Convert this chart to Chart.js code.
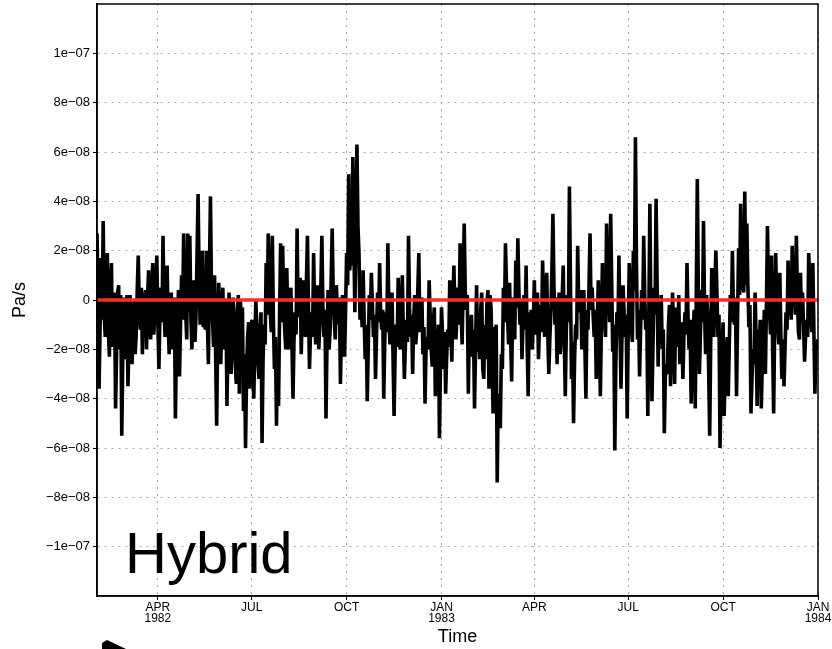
<!DOCTYPE html>
<html>
<head>
<meta charset="utf-8">
<script src="https://cdn.jsdelivr.net/npm/chart.js@4.4.1/dist/chart.umd.min.js"></script>
<style>
  body { margin: 0; background: #fff; }
  canvas { display: block; }
</style>
</head>
<body>
<canvas id="myChart" width="832" height="649"></canvas>
<script>
// daily omega in units of 1e-08 Pa/s, starting 1 Feb 1982 (day 0), 20 days per row
let stepDays = 1;
let omega = [
    2.7, 0.4, -3.6, -1.0, 1.7, -0.8, 3.2, -0.6, -1.5, 0.9, 1.9, -1.2, -2.3, 0.2, 1.5, -1.9, -0.8, 0.3, -4.4, -2.1,
    0.3, 0.6, -2.0, 0.2, -5.5, -2.3, 0.1, -2.4, -1.8, 0.2, -3.5, -1.6, 0.2, -1.0, -2.6, -0.9, 0.0, -2.2, -1.4, 0.4,
    1.8, -0.3, -1.2, 0.5, -2.2, 0.3, -0.5, 0.4, -2.0, 0.1, 1.2, -0.7, -1.6, 0.3, 1.5, -1.4, -0.6, 0.6, 1.8, -0.9,
    -2.8, -0.6, 0.5, -0.9, 2.6, -0.4, -1.5, 0.2, 1.4, -1.0, -2.2, -0.3, 0.3, -2.0, -1.2, 0.1, -4.8, -1.9, -0.8, 0.4,
    -3.1, -0.9, 1.0, -0.8, 2.7, 0.6, -0.5, -1.6, 2.7, -0.5, 2.6, -0.7, -2.0, -0.4, 0.8, -1.7, -0.6, 1.9, 4.3, 0.9,
    -1.0, 0.4, 2.0, -1.1, -0.3, -1.2, 2.0, -0.9, -2.6, 1.2, 4.2, 0.3, -0.8, -1.9, 1.0, -2.2, -5.1, -1.3, 0.7, -0.6,
    -2.6, -0.7, 0.5, -2.0, -1.4, 0.0, -4.3, -1.6, 0.3, -1.2, -3.0, -1.4, 0.1, -1.1, -2.5, -3.4, -0.5, 0.2, -3.8, 0.0,
    -1.0, -0.3, -4.5, -2.2, -6.0, -3.0, -1.5, -0.9, -3.6, -2.1, -0.8, -2.6, -4.0, -1.8, 0.0, -1.3, -2.5, -3.2, -1.2, -0.5,
    -5.8, -2.4, -1.0, -1.8, 1.5, -0.6, 2.7, 0.8, -0.5, -1.3, 2.6, -0.8, -2.8, -1.5, -5.1, -2.0, -4.3, -0.6, 2.3, -0.9,
    2.2, -0.4, -1.2, -2.0, 1.3, -0.9, -2.0, -0.6, 0.5, -1.8, -4.0, -1.6, -0.5, -1.4, 2.9, -0.7, 0.2, 0.9, -2.2, -0.3,
    0.8, -0.6, -1.5, 0.7, 2.6, -0.2, -2.8, -1.3, -0.5, -1.5, 1.9, -0.4, -1.8, -0.7, 0.6, -2.0, -1.0, 0.5, 2.6, -0.3,
    -1.5, -0.4, -4.8, -1.7, 0.4, -2.0, -1.2, 0.8, 2.9, 0.3, -0.8, -1.6, 0.6, -0.3, -1.0, 0.1, -3.4, -1.1, 0.2, -0.9,
    -2.3, -0.4, 1.9, 0.6, 5.1, 1.2, 2.0, 1.4, 5.8, 2.3, -0.5, 2.7, 6.3, 3.0, 1.9, -0.8, 0.5, -1.1, 1.2, -0.8,
    -2.4, -1.0, -4.1, -1.9, 0.2, -0.8, 1.1, -0.2, -1.5, -0.6, -3.2, -1.4, 0.3, -0.9, 1.5, -0.5, -1.2, -0.4, -4.0, -1.6,
    -0.5, -1.3, 2.3, -0.6, -1.8, -0.4, 0.3, -2.3, -4.7, -2.2, -1.0, -1.9, 0.9, -1.1, -2.0, -0.5, 1.0, -1.4, -3.2, -1.8,
    -0.8, -1.7, 2.6, -0.3, -1.5, -0.6, -3.0, -0.9, 0.2, -1.8, -1.2, 0.4, 1.9, -1.3, -0.5, 0.1, -2.2, -1.1, -4.2, -2.0,
    -1.5, -2.0, 0.8, -0.6, -2.0, -2.7, -1.0, -0.3, -3.9, -1.2, -2.2, -1.0, -5.6, -2.5, -0.3, -1.4, -2.8, -1.3, -3.8, -2.3,
    -1.2, -1.9, 0.8, -1.1, -2.5, -0.2, 1.4, -0.5, -1.6, -0.4, 0.5, -1.0, 2.3, -0.6, -1.8, 0.7, 3.1, 0.4, -0.4, 0.2,
    -3.8, -0.7, -1.5, -0.6, -2.3, -1.2, -4.4, -1.9, 0.6, -2.1, -1.2, -2.4, -0.4, 0.3, -2.8, -3.2, -1.0, -2.4, -0.2, 0.4,
    -3.6, 0.2, -0.3, -2.4, -4.6, -1.1, -2.0, -1.0, -7.4, -3.8, -4.7, -5.2, -2.2, -2.8, 0.5, -0.9, 2.3, 0.6, -0.6, -1.8,
    0.7, -1.5, -3.3, 0.1, -0.8, -1.6, 1.6, -0.3, 2.5, 0.4, -1.0, 0.0, -2.4, -0.9, 0.2, -1.2, 1.4, -1.7, -3.9, -0.5,
    -1.2, -0.4, -2.0, -0.9, 0.8, -1.4, -0.6, 0.3, -2.4, -1.0, -0.2, -1.3, 1.6, -0.4, -1.5, 0.2, 1.1, -1.3, -3.0, -1.6,
    -0.5, 1.2, 3.5, 0.6, -1.0, 0.1, -2.6, -0.7, 0.3, -2.2, -1.5, 0.1, 1.4, -1.6, -3.9, -1.2, 0.2, -0.9, 4.6, 0.8,
    -3.2, -1.7, -5.0, -2.4, -1.0, -1.6, 2.2, -0.2, -0.5, 0.4, -2.0, -0.8, 0.4, -1.9, -4.0, -0.4, -1.2, 0.6, 2.7, -0.4,
    0.5, -0.6, -1.5, -0.4, -3.2, -0.9, 0.8, -1.7, -3.9, -1.0, 1.5, 0.2, -0.8, -1.5, 3.1, 0.9, 0.2, -0.9, 3.5, 0.7,
    -2.1, -1.0, -6.1, -2.6, -0.5, -1.3, 1.8, -1.1, -3.6, -1.4, 0.6, -0.5, -1.5, -0.6, -4.8, -1.3, 1.5, 0.3, -1.0, -1.7,
    2.0, 0.4, 6.6, 1.5, -1.6, -0.4, -3.1, -1.2, 0.4, -0.8, 2.6, 0.2, -1.2, -0.5, -4.7, -0.6, 3.9, -0.8, -4.1, -1.9,
    0.5, -0.6, 4.1, 0.7, -2.7, 0.0, -0.8, 0.2, -2.0, -1.2, -5.4, -3.1, -2.6, -3.0, -1.0, -0.2, -3.5, -1.2, 0.3, -1.5,
    -3.4, -0.3, -1.0, -1.9, 0.2, -2.6, -1.8, -0.9, -3.2, -1.5, -0.5, -1.4, 1.5, -0.7, -2.0, -0.8, -4.2, -2.5, -1.2, -0.4,
    -4.4, 0.3, 4.9, 0.2, -3.0, -1.4, 0.4, -0.9, 3.2, -0.3, -2.2, 0.2, -0.6, -2.9, -5.5, -1.7, 1.3, -0.2, -1.5, 0.6,
    2.0, 0.3, -1.5, -0.6, -6.0, -3.1, -2.0, -0.9, -4.7, -3.0, -2.2, -1.5, -3.9, -1.8, 0.2, -0.9, 2.0, -0.4, -1.0, 0.1,
    -3.9, -0.8, 2.1, 0.2, 3.9, 0.4, 1.5, 0.3, 4.4, 0.6, 3.1, 0.6, -1.1, -0.2, -4.6, -3.2, -2.0, -2.6, 0.3, -1.6,
    -4.3, -1.2, -2.0, -0.8, -4.4, -2.6, -1.5, -0.4, -3.0, -0.2, 3.0, 0.4, -0.5, -1.4, 1.8, -1.9, -4.6, -1.0, 1.9, -0.3,
    -1.0, -1.8, 1.1, -1.4, -3.2, -1.6, -3.5, -2.0, -0.5, -1.2, 1.6, -0.6, 0.4, -0.8, 2.2, 0.1, 0.8, -0.6, 2.6, 0.4,
    -1.3, -1.6, 1.1, -0.7, 0.3, -1.1, -2.5, -1.4, -0.8, -1.5, 1.9, 0.5, -0.5, -1.3, 1.5, -1.2, -3.8, -2.0, -1.8, -1.6
];
let zeroDays = [0, 699];
let zeroValues = [0, 0];

let xTickDays = [59, 150, 242, 334, 424, 515, 607, 699];
let xTickLabels = [['APR', '1982'], 'JUL', 'OCT', ['JAN', '1983'], 'APR', 'JUL', 'OCT', ['JAN', '1984']];
let yTickValues = [-10, -8, -6, -4, -2, 0, 2, 4, 6, 8, 10];
let yTickLabels = ['\u22121e\u221207', '\u22128e\u221208', '\u22126e\u221208', '\u22124e\u221208', '\u22122e\u221208', '0',
    '2e\u221208', '4e\u221208', '6e\u221208', '8e\u221208', '1e\u221207'];
let panelLabel = 'Hybrid';

let omegaPoints = omega.map((v, i) => ({ x: i * stepDays, y: v }));
let zeroPoints = zeroDays.map((d, i) => ({ x: d, y: zeroValues[i] }));

// frame, panel label and the cut-off arrow at the bottom
const extras = {
    id: 'extras',
    afterDraw(chart) {
        const { ctx, chartArea: a } = chart;
        ctx.save();
        ctx.strokeStyle = '#000';
        ctx.lineWidth = 1.5;
        ctx.strokeRect(a.left, a.top, a.right - a.left, a.bottom - a.top);
        ctx.fillStyle = '#000';
        ctx.font = '58px "Liberation Sans", Arial, sans-serif';
        ctx.textBaseline = 'alphabetic';
        ctx.fillText(panelLabel, a.left + 28, a.bottom - 23);
        ctx.beginPath();
        ctx.moveTo(102, 643);
        ctx.lineTo(107, 640);
        ctx.lineTo(126, 649);
        ctx.lineTo(102, 649);
        ctx.closePath();
        ctx.fill();
        ctx.restore();
    }
};

var ctx = document.getElementById('myChart').getContext('2d');
var chart = new Chart(ctx, {
    type: 'line',
    data: {
        datasets: [{
            label: 'zero',
            data: zeroPoints,
            borderColor: '#ff2b2b',
            borderWidth: 3.5,
            pointRadius: 0
        },
        {
            label: 'omega',
            data: omegaPoints,
            borderColor: '#000',
            borderWidth: 3.6,
            borderJoinStyle: 'bevel',
            pointRadius: 0,
            tension: 0
        }]
    },
    options: {
        responsive: false,
        animation: false,
        layout: { padding: { top: 4, right: 14, bottom: 0, left: 0 } },
        plugins: { legend: { display: false }, tooltip: { enabled: false } },
        scales: {
            x: {
                type: 'linear',
                min: 0,
                max: 699,
                afterBuildTicks: s => { s.ticks = xTickDays.map(v => ({ value: v })); },
                afterFit: s => { s.height = 53; s.paddingLeft = 0; s.paddingRight = 0; },
                grid: { color: '#a8a8a8', tickColor: '#000', tickLength: 4, lineWidth: 1 },
                border: { color: '#000', width: 1.5, dash: [2, 5] },
                ticks: {
                    autoSkip: false,
                    maxRotation: 0,
                    padding: 2,
                    color: '#000',
                    font: { family: '"Liberation Sans", Arial, sans-serif', size: 12, lineHeight: 0.95 },
                    callback: (v, i) => xTickLabels[i]
                },
                title: {
                    display: true,
                    text: 'Time',
                    color: '#000',
                    font: { family: '"Liberation Sans", Arial, sans-serif', size: 18, lineHeight: 1.2 },
                    padding: { top: 0, bottom: 1 }
                }
            },
            y: {
                min: -12,
                max: 12,
                afterBuildTicks: s => { s.ticks = yTickValues.map(v => ({ value: v })); },
                afterFit: s => { s.width = 97; s.paddingTop = 0; s.paddingBottom = 0; },
                grid: { color: '#a8a8a8', tickColor: '#000', tickLength: 4, lineWidth: 1 },
                border: { color: '#000', width: 1.5, dash: [2, 5] },
                ticks: {
                    padding: 3,
                    color: '#000',
                    font: { family: '"Liberation Sans", Arial, sans-serif', size: 13 },
                    callback: (v, i) => yTickLabels[i]
                },
                title: {
                    display: true,
                    text: 'Pa/s',
                    color: '#000',
                    font: { family: '"Liberation Sans", Arial, sans-serif', size: 18, lineHeight: 1.2 },
                    padding: { top: 9, bottom: 0 }
                }
            }
        }
    },
    plugins: [extras]
});
</script>
</body>
</html>
